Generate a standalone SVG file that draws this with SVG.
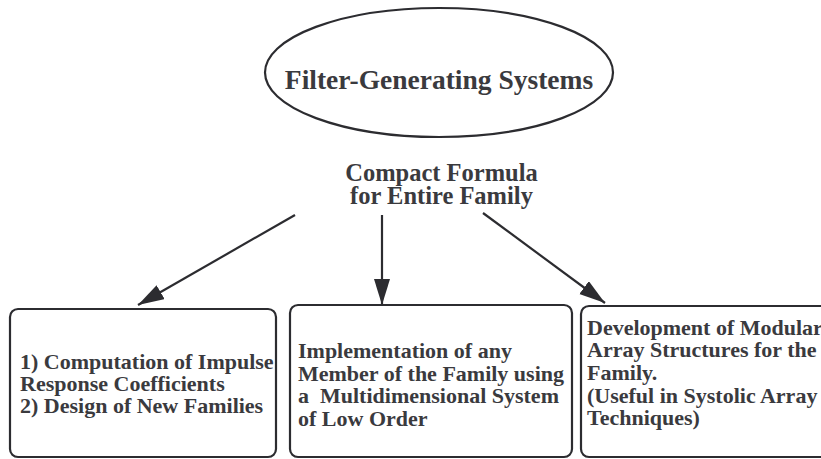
<svg xmlns="http://www.w3.org/2000/svg" width="821" height="459" viewBox="0 0 821 459">
  <style>
    .lbl { font-family: "Liberation Serif", "Times New Roman", serif; font-weight: bold; fill: #3a3a3e; }
    .box { fill: #ffffff; stroke: #2c2c30; stroke-width: 2.2; }
    .edge { fill: none; stroke: #2c2c30; stroke-width: 2.2; }
  </style>
  <defs>
    <marker id="arrow" markerUnits="userSpaceOnUse" markerWidth="28" markerHeight="18" refX="26" refY="8" orient="auto">
      <path d="M0,0 L26,8 L0,16 Z" fill="#2c2c30"/>
    </marker>
  </defs>
  <rect width="821" height="459" fill="#ffffff"/>

  <g id="root">
    <ellipse cx="439" cy="72.5" rx="174" ry="64.5" class="box"/>
    <text x="439" y="89" class="lbl" font-size="27.5" text-anchor="middle">Filter-Generating Systems</text>
  </g>

  <g id="formula">
    <text x="441.5" y="181" class="lbl" font-size="24.5" text-anchor="middle">Compact Formula</text>
    <text x="441.5" y="204" class="lbl" font-size="24.5" text-anchor="middle">for Entire Family</text>
  </g>

  <g id="connectors">
    <line x1="295" y1="215" x2="138" y2="305" class="edge" marker-end="url(#arrow)"/>
    <line x1="382" y1="215" x2="382" y2="305" class="edge" marker-end="url(#arrow)"/>
    <line x1="483" y1="213" x2="605" y2="303" class="edge" marker-end="url(#arrow)"/>
  </g>

  <g id="impulse">
    <rect x="10" y="309" width="266" height="148" rx="8" class="box"/>
    <text class="lbl" font-size="22">
      <tspan x="20" y="369">1) Computation of Impulse</tspan>
      <tspan x="20" y="391">Response Coefficients</tspan>
      <tspan x="20" y="413">2) Design of New Families</tspan>
    </text>
  </g>

  <g id="implementation">
    <rect x="290" y="305" width="282" height="152" rx="8" class="box"/>
    <text class="lbl" font-size="22" xml:space="preserve">
      <tspan x="298" y="358">Implementation of any</tspan>
      <tspan x="298" y="381">Member of the Family using</tspan>
      <tspan x="298" y="403">a  Multidimensional System</tspan>
      <tspan x="298" y="426">of Low Order</tspan>
    </text>
  </g>

  <g id="modular">
    <rect x="581" y="306" width="260" height="151" rx="8" class="box"/>
    <text class="lbl" font-size="22">
      <tspan x="587" y="335">Development of Modular</tspan>
      <tspan x="587" y="357">Array Structures for the</tspan>
      <tspan x="587" y="380">Family.</tspan>
      <tspan x="587" y="403">(Useful in Systolic Array</tspan>
      <tspan x="587" y="425">Techniques)</tspan>
    </text>
  </g>
</svg>
